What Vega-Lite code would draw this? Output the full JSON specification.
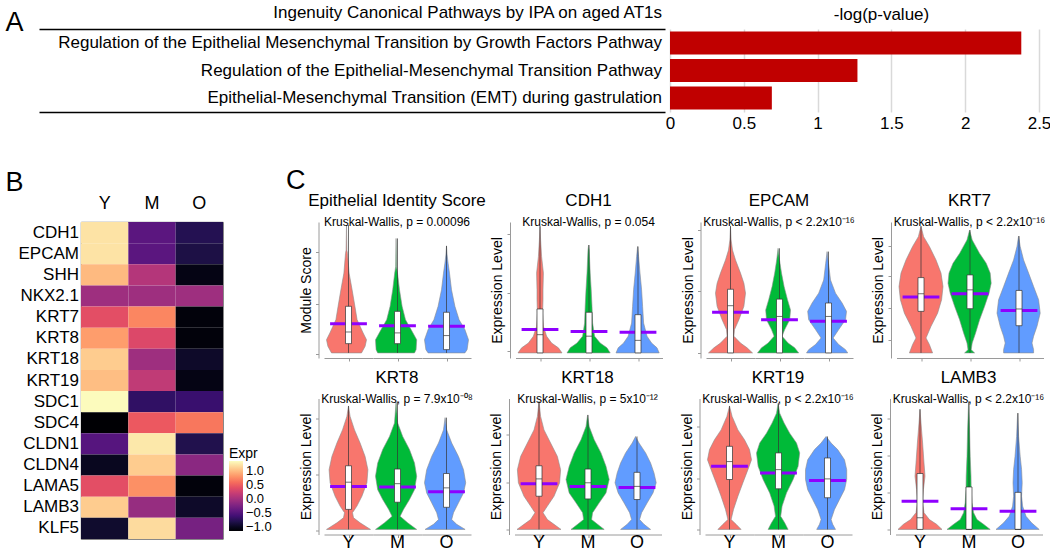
{
"$schema":"https://vega.github.io/schema/vega-lite/v6.json",
"padding":{"left":5,"top":4,"right":0,"bottom":0},
"config":{"font":"Liberation Sans","view":{"stroke":null},
 "title":{"fontWeight":"normal","color":"black","subtitleColor":"black","fontSize":17,"subtitleFontSize":12,"offset":-7,"subtitlePadding":7,"subtitleFont":"Liberation Sans","anchor":"middle","dx":12},
 "axis":{"labelColor":"black","titleColor":"black","titleFontWeight":"normal","domainColor":"#9a9a9a","tickColor":"#9a9a9a","grid":false},
 "header":{"labelColor":"black","labelFont":"Liberation Sans"}},
"datasets":{
"ipa":[{"pathway":"Regulation of the Epithelial Mesenchymal Transition by Growth Factors Pathway","logp":2.38},{"pathway":"Regulation of the Epithelial-Mesenchymal Transition Pathway","logp":1.27},{"pathway":"Epithelial-Mesenchymal Transition (EMT) during gastrulation","logp":0.69}],
"heat":[
{"gene":"CDH1","age":"Y","expr":1.22},{"gene":"CDH1","age":"M","expr":-0.45},{"gene":"CDH1","age":"O","expr":-0.78},
{"gene":"EPCAM","age":"Y","expr":1.22},{"gene":"EPCAM","age":"M","expr":-0.45},{"gene":"EPCAM","age":"O","expr":-0.83},
{"gene":"SHH","age":"Y","expr":1.0},{"gene":"SHH","age":"M","expr":0.1},{"gene":"SHH","age":"O","expr":-1.05},
{"gene":"NKX2.1","age":"Y","expr":-0.03},{"gene":"NKX2.1","age":"M","expr":-0.03},{"gene":"NKX2.1","age":"O","expr":-0.03},
{"gene":"KRT7","age":"Y","expr":0.4},{"gene":"KRT7","age":"M","expr":0.73},{"gene":"KRT7","age":"O","expr":-1.1},
{"gene":"KRT8","age":"Y","expr":0.85},{"gene":"KRT8","age":"M","expr":0.35},{"gene":"KRT8","age":"O","expr":-1.1},
{"gene":"KRT18","age":"Y","expr":1.1},{"gene":"KRT18","age":"M","expr":-0.03},{"gene":"KRT18","age":"O","expr":-0.95},
{"gene":"KRT19","age":"Y","expr":1.02},{"gene":"KRT19","age":"M","expr":0.17},{"gene":"KRT19","age":"O","expr":-1.05},
{"gene":"SDC1","age":"Y","expr":1.35},{"gene":"SDC1","age":"M","expr":-0.7},{"gene":"SDC1","age":"O","expr":-0.65},
{"gene":"SDC4","age":"Y","expr":-1.14},{"gene":"SDC4","age":"M","expr":0.47},{"gene":"SDC4","age":"O","expr":0.65},
{"gene":"CLDN1","age":"Y","expr":-0.48},{"gene":"CLDN1","age":"M","expr":1.25},{"gene":"CLDN1","age":"O","expr":-0.8},
{"gene":"CLDN4","age":"Y","expr":-1.0},{"gene":"CLDN4","age":"M","expr":1.1},{"gene":"CLDN4","age":"O","expr":-0.15},
{"gene":"LAMA5","age":"Y","expr":0.4},{"gene":"LAMA5","age":"M","expr":0.78},{"gene":"LAMA5","age":"O","expr":-1.1},
{"gene":"LAMB3","age":"Y","expr":1.1},{"gene":"LAMB3","age":"M","expr":-0.08},{"gene":"LAMB3","age":"O","expr":-0.95},
{"gene":"KLF5","age":"Y","expr":-0.93},{"gene":"KLF5","age":"M","expr":1.18},{"gene":"KLF5","age":"O","expr":-0.28}],
"vio":[
{"p":"EIS","g":"Y","k":"v","v":4.28,"w":0},{"p":"EIS","g":"Y","k":"v","v":3.44,"w":0.02},{"p":"EIS","g":"Y","k":"v","v":3.33,"w":0.05},{"p":"EIS","g":"Y","k":"v","v":2.67,"w":0.13},{"p":"EIS","g":"Y","k":"v","v":2.11,"w":0.28},{"p":"EIS","g":"Y","k":"v","v":1.56,"w":0.42},{"p":"EIS","g":"Y","k":"v","v":1.11,"w":0.53},{"p":"EIS","g":"Y","k":"v","v":0.67,"w":0.83},{"p":"EIS","g":"Y","k":"v","v":0.44,"w":1.0},{"p":"EIS","g":"Y","k":"v","v":0.22,"w":0.93},{"p":"EIS","g":"Y","k":"v","v":0,"w":0.75},
{"p":"EIS","g":"M","k":"v","v":3.83,"w":0},{"p":"EIS","g":"M","k":"v","v":2.89,"w":0.02},{"p":"EIS","g":"M","k":"v","v":2.67,"w":0.07},{"p":"EIS","g":"M","k":"v","v":2.11,"w":0.17},{"p":"EIS","g":"M","k":"v","v":1.56,"w":0.3},{"p":"EIS","g":"M","k":"v","v":1.11,"w":0.47},{"p":"EIS","g":"M","k":"v","v":0.78,"w":0.75},{"p":"EIS","g":"M","k":"v","v":0.44,"w":1.03},{"p":"EIS","g":"M","k":"v","v":0.11,"w":1.0},{"p":"EIS","g":"M","k":"v","v":0,"w":0.92},
{"p":"EIS","g":"O","k":"v","v":3.58,"w":0},{"p":"EIS","g":"O","k":"v","v":3.28,"w":0.03},{"p":"EIS","g":"O","k":"v","v":3.0,"w":0.08},{"p":"EIS","g":"O","k":"v","v":2.67,"w":0.15},{"p":"EIS","g":"O","k":"v","v":2.11,"w":0.25},{"p":"EIS","g":"O","k":"v","v":1.56,"w":0.42},{"p":"EIS","g":"O","k":"v","v":1.11,"w":0.63},{"p":"EIS","g":"O","k":"v","v":0.78,"w":0.92},{"p":"EIS","g":"O","k":"v","v":0.44,"w":1.1},{"p":"EIS","g":"O","k":"v","v":0.11,"w":1.03},{"p":"EIS","g":"O","k":"v","v":0,"w":0.92},
{"p":"EIS","g":"Y","k":"b","lo":0,"q1":0.31,"med":0.7,"q3":1.56,"hi":4.28,"mean":0.98},{"p":"EIS","g":"M","k":"b","lo":0,"q1":0.31,"med":0.67,"q3":1.39,"hi":3.83,"mean":0.91},{"p":"EIS","g":"O","k":"b","lo":0,"q1":0.11,"med":0.58,"q3":1.36,"hi":3.58,"mean":0.89},
{"p":"CDH1","g":"Y","k":"v","v":4.24,"w":0},{"p":"CDH1","g":"Y","k":"v","v":3.78,"w":0.03},{"p":"CDH1","g":"Y","k":"v","v":3.22,"w":0.08},{"p":"CDH1","g":"Y","k":"v","v":2.67,"w":0.17},{"p":"CDH1","g":"Y","k":"v","v":2.11,"w":0.15},{"p":"CDH1","g":"Y","k":"v","v":1.78,"w":0.15},{"p":"CDH1","g":"Y","k":"v","v":1.33,"w":0.13},{"p":"CDH1","g":"Y","k":"v","v":0.89,"w":0.17},{"p":"CDH1","g":"Y","k":"v","v":0.56,"w":0.33},{"p":"CDH1","g":"Y","k":"v","v":0.33,"w":0.58},{"p":"CDH1","g":"Y","k":"v","v":0.17,"w":0.92},{"p":"CDH1","g":"Y","k":"v","v":0,"w":1.1},
{"p":"CDH1","g":"M","k":"v","v":3.61,"w":0},{"p":"CDH1","g":"M","k":"v","v":3.44,"w":0.03},{"p":"CDH1","g":"M","k":"v","v":2.67,"w":0.08},{"p":"CDH1","g":"M","k":"v","v":2.11,"w":0.13},{"p":"CDH1","g":"M","k":"v","v":1.56,"w":0.17},{"p":"CDH1","g":"M","k":"v","v":1.0,"w":0.2},{"p":"CDH1","g":"M","k":"v","v":0.56,"w":0.3},{"p":"CDH1","g":"M","k":"v","v":0.33,"w":0.58},{"p":"CDH1","g":"M","k":"v","v":0.17,"w":0.92},{"p":"CDH1","g":"M","k":"v","v":0,"w":1.08},
{"p":"CDH1","g":"O","k":"v","v":3.56,"w":0},{"p":"CDH1","g":"O","k":"v","v":3.22,"w":0.05},{"p":"CDH1","g":"O","k":"v","v":2.67,"w":0.12},{"p":"CDH1","g":"O","k":"v","v":2.11,"w":0.2},{"p":"CDH1","g":"O","k":"v","v":1.56,"w":0.25},{"p":"CDH1","g":"O","k":"v","v":1.0,"w":0.3},{"p":"CDH1","g":"O","k":"v","v":0.56,"w":0.47},{"p":"CDH1","g":"O","k":"v","v":0.33,"w":0.7},{"p":"CDH1","g":"O","k":"v","v":0.17,"w":0.97},{"p":"CDH1","g":"O","k":"v","v":0,"w":1.08},
{"p":"CDH1","g":"Y","k":"b","lo":0,"q1":0,"med":0.61,"q3":1.47,"hi":4.24,"mean":0.78},{"p":"CDH1","g":"M","k":"b","lo":0,"q1":0,"med":0.56,"q3":1.36,"hi":3.61,"mean":0.72},{"p":"CDH1","g":"O","k":"b","lo":0,"q1":0,"med":0.42,"q3":1.28,"hi":3.56,"mean":0.69},
{"p":"EPCAM","g":"Y","k":"v","v":4.24,"w":0},{"p":"EPCAM","g":"Y","k":"v","v":3.78,"w":0.03},{"p":"EPCAM","g":"Y","k":"v","v":3.44,"w":0.1},{"p":"EPCAM","g":"Y","k":"v","v":3.11,"w":0.25},{"p":"EPCAM","g":"Y","k":"v","v":2.67,"w":0.5},{"p":"EPCAM","g":"Y","k":"v","v":2.33,"w":0.67},{"p":"EPCAM","g":"Y","k":"v","v":2.0,"w":0.75},{"p":"EPCAM","g":"Y","k":"v","v":1.56,"w":0.67},{"p":"EPCAM","g":"Y","k":"v","v":1.11,"w":0.42},{"p":"EPCAM","g":"Y","k":"v","v":0.78,"w":0.2},{"p":"EPCAM","g":"Y","k":"v","v":0.56,"w":0.17},{"p":"EPCAM","g":"Y","k":"v","v":0.33,"w":0.5},{"p":"EPCAM","g":"Y","k":"v","v":0.17,"w":0.83},{"p":"EPCAM","g":"Y","k":"v","v":0,"w":1.1},
{"p":"EPCAM","g":"M","k":"v","v":3.5,"w":0},{"p":"EPCAM","g":"M","k":"v","v":3.11,"w":0.07},{"p":"EPCAM","g":"M","k":"v","v":2.67,"w":0.17},{"p":"EPCAM","g":"M","k":"v","v":2.22,"w":0.3},{"p":"EPCAM","g":"M","k":"v","v":1.78,"w":0.47},{"p":"EPCAM","g":"M","k":"v","v":1.44,"w":0.62},{"p":"EPCAM","g":"M","k":"v","v":1.11,"w":0.58},{"p":"EPCAM","g":"M","k":"v","v":0.78,"w":0.33},{"p":"EPCAM","g":"M","k":"v","v":0.56,"w":0.2},{"p":"EPCAM","g":"M","k":"v","v":0.33,"w":0.5},{"p":"EPCAM","g":"M","k":"v","v":0.17,"w":0.83},{"p":"EPCAM","g":"M","k":"v","v":0,"w":1.03},
{"p":"EPCAM","g":"O","k":"v","v":3.39,"w":0},{"p":"EPCAM","g":"O","k":"v","v":3.0,"w":0.07},{"p":"EPCAM","g":"O","k":"v","v":2.44,"w":0.17},{"p":"EPCAM","g":"O","k":"v","v":2.0,"w":0.42},{"p":"EPCAM","g":"O","k":"v","v":1.67,"w":0.75},{"p":"EPCAM","g":"O","k":"v","v":1.39,"w":0.97},{"p":"EPCAM","g":"O","k":"v","v":1.11,"w":0.92},{"p":"EPCAM","g":"O","k":"v","v":0.78,"w":0.58},{"p":"EPCAM","g":"O","k":"v","v":0.5,"w":0.3},{"p":"EPCAM","g":"O","k":"v","v":0.28,"w":0.58},{"p":"EPCAM","g":"O","k":"v","v":0.11,"w":0.92},{"p":"EPCAM","g":"O","k":"v","v":0,"w":1.03},
{"p":"EPCAM","g":"Y","k":"b","lo":0,"q1":0,"med":1.58,"q3":2.13,"hi":4.24,"mean":1.36},{"p":"EPCAM","g":"M","k":"b","lo":0,"q1":0,"med":1.22,"q3":1.8,"hi":3.5,"mean":1.11},{"p":"EPCAM","g":"O","k":"b","lo":0,"q1":0,"med":1.22,"q3":1.67,"hi":3.39,"mean":1.06},
{"p":"KRT7","g":"Y","k":"v","v":4.24,"w":0},{"p":"KRT7","g":"Y","k":"v","v":3.89,"w":0.13},{"p":"KRT7","g":"Y","k":"v","v":3.56,"w":0.42},{"p":"KRT7","g":"Y","k":"v","v":3.11,"w":0.75},{"p":"KRT7","g":"Y","k":"v","v":2.67,"w":1.0},{"p":"KRT7","g":"Y","k":"v","v":2.22,"w":1.1},{"p":"KRT7","g":"Y","k":"v","v":1.78,"w":1.03},{"p":"KRT7","g":"Y","k":"v","v":1.33,"w":0.83},{"p":"KRT7","g":"Y","k":"v","v":0.89,"w":0.5},{"p":"KRT7","g":"Y","k":"v","v":0.5,"w":0.25},{"p":"KRT7","g":"Y","k":"v","v":0.28,"w":0.42},{"p":"KRT7","g":"Y","k":"v","v":0,"w":0.58},
{"p":"KRT7","g":"M","k":"v","v":4.11,"w":0},{"p":"KRT7","g":"M","k":"v","v":3.78,"w":0.13},{"p":"KRT7","g":"M","k":"v","v":3.33,"w":0.5},{"p":"KRT7","g":"M","k":"v","v":3.0,"w":0.83},{"p":"KRT7","g":"M","k":"v","v":2.67,"w":1.03},{"p":"KRT7","g":"M","k":"v","v":2.33,"w":1.08},{"p":"KRT7","g":"M","k":"v","v":2.0,"w":0.97},{"p":"KRT7","g":"M","k":"v","v":1.56,"w":0.75},{"p":"KRT7","g":"M","k":"v","v":1.11,"w":0.5},{"p":"KRT7","g":"M","k":"v","v":0.67,"w":0.3},{"p":"KRT7","g":"M","k":"v","v":0.33,"w":0.13},{"p":"KRT7","g":"M","k":"v","v":0.11,"w":0.08},{"p":"KRT7","g":"M","k":"v","v":0,"w":0.25},
{"p":"KRT7","g":"O","k":"v","v":3.91,"w":0},{"p":"KRT7","g":"O","k":"v","v":3.56,"w":0.08},{"p":"KRT7","g":"O","k":"v","v":3.11,"w":0.25},{"p":"KRT7","g":"O","k":"v","v":2.67,"w":0.5},{"p":"KRT7","g":"O","k":"v","v":2.22,"w":0.75},{"p":"KRT7","g":"O","k":"v","v":1.78,"w":1.0},{"p":"KRT7","g":"O","k":"v","v":1.33,"w":1.08},{"p":"KRT7","g":"O","k":"v","v":0.89,"w":0.92},{"p":"KRT7","g":"O","k":"v","v":0.56,"w":0.75},{"p":"KRT7","g":"O","k":"v","v":0.33,"w":0.67},{"p":"KRT7","g":"O","k":"v","v":0.11,"w":0.75},{"p":"KRT7","g":"O","k":"v","v":0,"w":0.75},
{"p":"KRT7","g":"Y","k":"b","lo":0,"q1":1.39,"med":1.98,"q3":2.52,"hi":4.24,"mean":1.87},{"p":"KRT7","g":"M","k":"b","lo":0,"q1":1.48,"med":2.11,"q3":2.61,"hi":4.11,"mean":1.98},{"p":"KRT7","g":"O","k":"b","lo":0,"q1":0.91,"med":1.47,"q3":2.09,"hi":3.91,"mean":1.42},
{"p":"KRT8","g":"Y","k":"v","v":4.13,"w":0},{"p":"KRT8","g":"Y","k":"v","v":3.78,"w":0.08},{"p":"KRT8","g":"Y","k":"v","v":3.33,"w":0.3},{"p":"KRT8","g":"Y","k":"v","v":2.89,"w":0.58},{"p":"KRT8","g":"Y","k":"v","v":2.44,"w":0.83},{"p":"KRT8","g":"Y","k":"v","v":2.0,"w":0.97},{"p":"KRT8","g":"Y","k":"v","v":1.56,"w":0.92},{"p":"KRT8","g":"Y","k":"v","v":1.11,"w":0.67},{"p":"KRT8","g":"Y","k":"v","v":0.78,"w":0.42},{"p":"KRT8","g":"Y","k":"v","v":0.56,"w":0.2},{"p":"KRT8","g":"Y","k":"v","v":0.39,"w":0.25},{"p":"KRT8","g":"Y","k":"v","v":0.22,"w":0.58},{"p":"KRT8","g":"Y","k":"v","v":0,"w":1.1},
{"p":"KRT8","g":"M","k":"v","v":4.28,"w":0},{"p":"KRT8","g":"M","k":"v","v":3.56,"w":0.08},{"p":"KRT8","g":"M","k":"v","v":3.11,"w":0.33},{"p":"KRT8","g":"M","k":"v","v":2.67,"w":0.67},{"p":"KRT8","g":"M","k":"v","v":2.22,"w":0.92},{"p":"KRT8","g":"M","k":"v","v":1.78,"w":1.03},{"p":"KRT8","g":"M","k":"v","v":1.33,"w":0.92},{"p":"KRT8","g":"M","k":"v","v":1.0,"w":0.67},{"p":"KRT8","g":"M","k":"v","v":0.67,"w":0.37},{"p":"KRT8","g":"M","k":"v","v":0.44,"w":0.2},{"p":"KRT8","g":"M","k":"v","v":0.22,"w":0.58},{"p":"KRT8","g":"M","k":"v","v":0,"w":1.03},
{"p":"KRT8","g":"O","k":"v","v":3.74,"w":0},{"p":"KRT8","g":"O","k":"v","v":3.33,"w":0.08},{"p":"KRT8","g":"O","k":"v","v":2.89,"w":0.33},{"p":"KRT8","g":"O","k":"v","v":2.44,"w":0.67},{"p":"KRT8","g":"O","k":"v","v":2.0,"w":0.92},{"p":"KRT8","g":"O","k":"v","v":1.56,"w":1.03},{"p":"KRT8","g":"O","k":"v","v":1.22,"w":0.92},{"p":"KRT8","g":"O","k":"v","v":0.89,"w":0.67},{"p":"KRT8","g":"O","k":"v","v":0.56,"w":0.42},{"p":"KRT8","g":"O","k":"v","v":0.33,"w":0.33},{"p":"KRT8","g":"O","k":"v","v":0.17,"w":0.58},{"p":"KRT8","g":"O","k":"v","v":0,"w":1.0},
{"p":"KRT8","g":"Y","k":"b","lo":0,"q1":0.67,"med":1.58,"q3":2.13,"hi":4.13,"mean":1.44},{"p":"KRT8","g":"M","k":"b","lo":0,"q1":0.91,"med":1.53,"q3":2.02,"hi":4.28,"mean":1.42},{"p":"KRT8","g":"O","k":"b","lo":0,"q1":0.74,"med":1.39,"q3":1.87,"hi":3.74,"mean":1.26},
{"p":"KRT18","g":"Y","k":"v","v":4.28,"w":0},{"p":"KRT18","g":"Y","k":"v","v":3.78,"w":0.08},{"p":"KRT18","g":"Y","k":"v","v":3.33,"w":0.25},{"p":"KRT18","g":"Y","k":"v","v":2.89,"w":0.58},{"p":"KRT18","g":"Y","k":"v","v":2.44,"w":0.92},{"p":"KRT18","g":"Y","k":"v","v":2.0,"w":1.08},{"p":"KRT18","g":"Y","k":"v","v":1.56,"w":1.03},{"p":"KRT18","g":"Y","k":"v","v":1.11,"w":0.75},{"p":"KRT18","g":"Y","k":"v","v":0.78,"w":0.42},{"p":"KRT18","g":"Y","k":"v","v":0.56,"w":0.2},{"p":"KRT18","g":"Y","k":"v","v":0.33,"w":0.42},{"p":"KRT18","g":"Y","k":"v","v":0.17,"w":0.75},{"p":"KRT18","g":"Y","k":"v","v":0,"w":1.1},
{"p":"KRT18","g":"M","k":"v","v":3.83,"w":0},{"p":"KRT18","g":"M","k":"v","v":3.44,"w":0.08},{"p":"KRT18","g":"M","k":"v","v":3.0,"w":0.33},{"p":"KRT18","g":"M","k":"v","v":2.56,"w":0.67},{"p":"KRT18","g":"M","k":"v","v":2.11,"w":0.92},{"p":"KRT18","g":"M","k":"v","v":1.67,"w":1.08},{"p":"KRT18","g":"M","k":"v","v":1.22,"w":0.92},{"p":"KRT18","g":"M","k":"v","v":0.89,"w":0.58},{"p":"KRT18","g":"M","k":"v","v":0.56,"w":0.25},{"p":"KRT18","g":"M","k":"v","v":0.33,"w":0.2},{"p":"KRT18","g":"M","k":"v","v":0.17,"w":0.5},{"p":"KRT18","g":"M","k":"v","v":0,"w":0.83},
{"p":"KRT18","g":"O","k":"v","v":3.11,"w":0},{"p":"KRT18","g":"O","k":"v","v":2.89,"w":0.17},{"p":"KRT18","g":"O","k":"v","v":2.56,"w":0.5},{"p":"KRT18","g":"O","k":"v","v":2.22,"w":0.75},{"p":"KRT18","g":"O","k":"v","v":1.89,"w":0.92},{"p":"KRT18","g":"O","k":"v","v":1.56,"w":1.03},{"p":"KRT18","g":"O","k":"v","v":1.22,"w":0.87},{"p":"KRT18","g":"O","k":"v","v":0.89,"w":0.58},{"p":"KRT18","g":"O","k":"v","v":0.56,"w":0.3},{"p":"KRT18","g":"O","k":"v","v":0.33,"w":0.2},{"p":"KRT18","g":"O","k":"v","v":0.17,"w":0.42},{"p":"KRT18","g":"O","k":"v","v":0,"w":0.75},
{"p":"KRT18","g":"Y","k":"b","lo":0,"q1":1.11,"med":1.69,"q3":2.13,"hi":4.28,"mean":1.53},{"p":"KRT18","g":"M","k":"b","lo":0,"q1":1.02,"med":1.56,"q3":2.02,"hi":3.83,"mean":1.44},{"p":"KRT18","g":"O","k":"b","lo":0,"q1":1.0,"med":1.44,"q3":1.91,"hi":3.11,"mean":1.4},
{"p":"KRT19","g":"Y","k":"v","v":4.13,"w":0},{"p":"KRT19","g":"Y","k":"v","v":3.78,"w":0.13},{"p":"KRT19","g":"Y","k":"v","v":3.33,"w":0.42},{"p":"KRT19","g":"Y","k":"v","v":3.0,"w":0.75},{"p":"KRT19","g":"Y","k":"v","v":2.67,"w":1.0},{"p":"KRT19","g":"Y","k":"v","v":2.33,"w":1.1},{"p":"KRT19","g":"Y","k":"v","v":2.0,"w":0.92},{"p":"KRT19","g":"Y","k":"v","v":1.56,"w":0.67},{"p":"KRT19","g":"Y","k":"v","v":1.11,"w":0.42},{"p":"KRT19","g":"Y","k":"v","v":0.67,"w":0.2},{"p":"KRT19","g":"Y","k":"v","v":0.33,"w":0.08},{"p":"KRT19","g":"Y","k":"v","v":0.17,"w":0.33},{"p":"KRT19","g":"Y","k":"v","v":0,"w":0.58},
{"p":"KRT19","g":"M","k":"v","v":4.22,"w":0},{"p":"KRT19","g":"M","k":"v","v":3.89,"w":0.08},{"p":"KRT19","g":"M","k":"v","v":3.56,"w":0.3},{"p":"KRT19","g":"M","k":"v","v":3.22,"w":0.58},{"p":"KRT19","g":"M","k":"v","v":2.89,"w":0.92},{"p":"KRT19","g":"M","k":"v","v":2.56,"w":1.08},{"p":"KRT19","g":"M","k":"v","v":2.11,"w":1.0},{"p":"KRT19","g":"M","k":"v","v":1.67,"w":0.75},{"p":"KRT19","g":"M","k":"v","v":1.22,"w":0.42},{"p":"KRT19","g":"M","k":"v","v":0.78,"w":0.2},{"p":"KRT19","g":"M","k":"v","v":0.44,"w":0.13},{"p":"KRT19","g":"M","k":"v","v":0.22,"w":0.33},{"p":"KRT19","g":"M","k":"v","v":0,"w":0.5},
{"p":"KRT19","g":"O","k":"v","v":3.11,"w":0},{"p":"KRT19","g":"O","k":"v","v":2.89,"w":0.25},{"p":"KRT19","g":"O","k":"v","v":2.67,"w":0.58},{"p":"KRT19","g":"O","k":"v","v":2.33,"w":0.92},{"p":"KRT19","g":"O","k":"v","v":2.0,"w":1.03},{"p":"KRT19","g":"O","k":"v","v":1.67,"w":1.03},{"p":"KRT19","g":"O","k":"v","v":1.33,"w":0.92},{"p":"KRT19","g":"O","k":"v","v":1.0,"w":0.67},{"p":"KRT19","g":"O","k":"v","v":0.67,"w":0.42},{"p":"KRT19","g":"O","k":"v","v":0.33,"w":0.25},{"p":"KRT19","g":"O","k":"v","v":0.17,"w":0.33},{"p":"KRT19","g":"O","k":"v","v":0,"w":0.47},
{"p":"KRT19","g":"Y","k":"b","lo":0,"q1":1.67,"med":2.27,"q3":2.78,"hi":4.13,"mean":2.11},{"p":"KRT19","g":"M","k":"b","lo":0,"q1":1.36,"med":2.0,"q3":2.56,"hi":4.22,"mean":1.89},{"p":"KRT19","g":"O","k":"b","lo":0,"q1":1.06,"med":1.69,"q3":2.39,"hi":3.11,"mean":1.64},
{"p":"LAMB3","g":"Y","k":"v","v":4.02,"w":0},{"p":"LAMB3","g":"Y","k":"v","v":3.56,"w":0.05},{"p":"LAMB3","g":"Y","k":"v","v":2.89,"w":0.13},{"p":"LAMB3","g":"Y","k":"v","v":2.22,"w":0.2},{"p":"LAMB3","g":"Y","k":"v","v":1.78,"w":0.25},{"p":"LAMB3","g":"Y","k":"v","v":1.33,"w":0.17},{"p":"LAMB3","g":"Y","k":"v","v":0.89,"w":0.13},{"p":"LAMB3","g":"Y","k":"v","v":0.56,"w":0.2},{"p":"LAMB3","g":"Y","k":"v","v":0.33,"w":0.47},{"p":"LAMB3","g":"Y","k":"v","v":0.17,"w":0.83},{"p":"LAMB3","g":"Y","k":"v","v":0,"w":1.1},
{"p":"LAMB3","g":"M","k":"v","v":4.28,"w":0},{"p":"LAMB3","g":"M","k":"v","v":3.33,"w":0.05},{"p":"LAMB3","g":"M","k":"v","v":2.44,"w":0.08},{"p":"LAMB3","g":"M","k":"v","v":1.78,"w":0.12},{"p":"LAMB3","g":"M","k":"v","v":1.33,"w":0.13},{"p":"LAMB3","g":"M","k":"v","v":0.89,"w":0.17},{"p":"LAMB3","g":"M","k":"v","v":0.56,"w":0.25},{"p":"LAMB3","g":"M","k":"v","v":0.33,"w":0.42},{"p":"LAMB3","g":"M","k":"v","v":0.17,"w":0.75},{"p":"LAMB3","g":"M","k":"v","v":0,"w":1.08},
{"p":"LAMB3","g":"O","k":"v","v":3.89,"w":0},{"p":"LAMB3","g":"O","k":"v","v":3.11,"w":0.05},{"p":"LAMB3","g":"O","k":"v","v":2.44,"w":0.13},{"p":"LAMB3","g":"O","k":"v","v":2.0,"w":0.2},{"p":"LAMB3","g":"O","k":"v","v":1.56,"w":0.23},{"p":"LAMB3","g":"O","k":"v","v":1.11,"w":0.2},{"p":"LAMB3","g":"O","k":"v","v":0.78,"w":0.25},{"p":"LAMB3","g":"O","k":"v","v":0.44,"w":0.42},{"p":"LAMB3","g":"O","k":"v","v":0.22,"w":0.7},{"p":"LAMB3","g":"O","k":"v","v":0,"w":1.08},
{"p":"LAMB3","g":"Y","k":"b","lo":0,"q1":0,"med":0.39,"q3":1.87,"hi":4.02,"mean":0.94},{"p":"LAMB3","g":"M","k":"b","lo":0,"q1":0,"med":0,"q3":1.42,"hi":4.28,"mean":0.69},{"p":"LAMB3","g":"O","k":"b","lo":0,"q1":0,"med":0,"q3":1.24,"hi":3.89,"mean":0.61}
]},
"columns":1,"spacing":36,
"concat":[
 {"hconcat":[
  {"width":626,"height":83,"data":{"name":"ipa"},
   "title":{"text":"Ingenuity Canonical Pathways by IPA on aged AT1s","anchor":"end","frame":"group","fontSize":17,"offset":-14,"dx":-3},
   "layer":[
    {"mark":{"type":"text","align":"right","fontSize":17,"dx":-3,"color":"black"},
     "encoding":{
      "y":{"field":"pathway","type":"nominal","sort":null,"scale":{"paddingInner":0.164,"paddingOuter":0.09},"axis":{"title":"A","titleAngle":0,"titleFontSize":27,"titleAlign":"left","titleBaseline":"top","titleX":-34,"titleY":-20,"labels":false,"ticks":false,"domain":false}},
      "x":{"datum":1,"type":"quantitative","scale":{"domain":[0,1],"nice":false},"axis":{"orient":"top","domainColor":"black","domainWidth":1.3,"ticks":false,"labels":false,"title":null}},
      "text":{"field":"pathway"}}},
    {"mark":{"type":"text","align":"right","fontSize":17,"dx":-3,"opacity":0},
     "encoding":{
      "y":{"field":"pathway","type":"nominal","sort":null},
      "x":{"datum":1,"type":"quantitative","axis":{"orient":"bottom","domainColor":"black","domainWidth":1.3,"ticks":false,"labels":false,"title":null}},
      "text":{"field":"pathway"}}}
   ],
   "resolve":{"axis":{"x":"independent"}}},
  {"width":369,"height":83,"data":{"name":"ipa"},
   "title":{"text":"-log(p-value)","fontSize":17,"offset":5,"dx":27},
   "mark":{"type":"bar","color":"#c00000"},
   "encoding":{
    "y":{"field":"pathway","type":"nominal","sort":null,"axis":null,"scale":{"paddingInner":0.164,"paddingOuter":0.09}},
    "x":{"field":"logp","type":"quantitative","scale":{"domain":[0,2.5],"nice":false},"axis":{"values":[0,0.5,1,1.5,2,2.5],"format":"~g","labelFontSize":17,"grid":true,"gridColor":"#d9d9d9","gridWidth":1.5,"ticks":false,"domain":false,"title":null,"labelFlush":false,"labelPadding":3}}}}
 ],"spacing":0},
 {"spacing":0,"hconcat":[
  {"width":41,"height":317,"data":{"name":"heat"},"transform":[{"filter":"datum.age=='Y'"}],
   "title":{"text":"B","anchor":"start","frame":"bounds","fontSize":27,"dx":-13,"offset":25},
   "mark":{"type":"text","align":"right","fontSize":17,"dx":-1,"color":"black"},
   "encoding":{
    "y":{"field":"gene","type":"nominal","sort":["CDH1","EPCAM","SHH","NKX2.1","KRT7","KRT8","KRT18","KRT19","SDC1","SDC4","CLDN1","CLDN4","LAMA5","LAMB3","KLF5"],"axis":null},
    "x":{"datum":1,"type":"quantitative","scale":{"domain":[0,1],"nice":false},"axis":null},
    "text":{"field":"gene"}}},
  {"spacing":13,"hconcat":[
  {"width":142,"height":317,"data":{"name":"heat"},
   "view":{"stroke":"#444","strokeWidth":0.8},
   "mark":{"type":"rect"},
   "encoding":{
    "x":{"field":"age","type":"nominal","sort":["Y","M","O"],"axis":{"orient":"top","title":null,"labelAngle":0,"labelFontSize":18,"ticks":false,"domain":false,"labelPadding":10}},
    "y":{"field":"gene","type":"nominal","sort":["CDH1","EPCAM","SHH","NKX2.1","KRT7","KRT8","KRT18","KRT19","SDC1","SDC4","CLDN1","CLDN4","LAMA5","LAMB3","KLF5"],"axis":null},
    "color":{"field":"expr","type":"quantitative","scale":{"scheme":"magma","domain":[-1.14,1.36]},"legend":{"title":"Expr","orient":"none","legendX":148,"legendY":225,"gradientLength":70,"gradientThickness":14,"titleFontSize":14,"titleFontWeight":"normal","titleColor":"black","labelFontSize":13,"labelColor":"black","labelOverlap":false,"values":[-1,-0.5,0,0.5,1],"format":".1f","titlePadding":0,"labelOffset":3,"gradientStrokeWidth":0}}}},
  {"title":{"text":"C","anchor":"start","frame":"bounds","fontSize":27,"dx":-13,"offset":-3},
   "spacing":6.5,
   "vconcat":[
    {"spacing":4.5,"hconcat":[
     {"data":{"name":"vio"},"transform":[{"filter":"datum.p=='EIS'"}],
      "title":{"text":"Epithelial Identity Score","subtitle":"Kruskal-Wallis, p = 0.00096"},
      "facet":{"column":{"field":"g","type":"nominal","sort":["Y","M","O"],"header":{"labels":false,"title":null}}},
      "spacing":0,
      "spec":{"width":49,"height":136,"layer":[
       {"transform":[{"filter":"datum.k=='v'"}],"mark":{"type":"area","orient":"horizontal","stroke":"#8c8c8c","strokeWidth":0.6},
        "encoding":{"y":{"field":"v","type":"quantitative","scale":{"domain":[-0.17,4.38],"nice":false},"axis":{"title":"Module Score","values":[-0.03,0.8,1.64,2.52,3.36,4.23],"labels":false,"tickSize":3,"offset":5.5,"titleFontSize":14,"titlePadding":2}},
         "x":{"field":"w","type":"quantitative","stack":"center","impute":null,"scale":{"domain":[-0.0625,1.1625],"nice":false},"axis":{"values":[0.55],"labels":false,"tickSize":3,"title":null}},
         "color":{"field":"g","type":"nominal","scale":{"domain":["Y","M","O"],"range":["#F8766D","#00BA38","#619CFF"]},"legend":null}}},
       {"transform":[{"filter":"datum.k=='b'"}],"mark":{"type":"rule","color":"#333","strokeWidth":0.7},"encoding":{"y":{"field":"lo","type":"quantitative"},"y2":{"field":"hi"},"x":{"datum":0.55}}},
       {"transform":[{"filter":"datum.k=='b'"}],"mark":{"type":"rule","color":"#8f00ff","strokeWidth":3},"encoding":{"y":{"field":"mean","type":"quantitative"},"x":{"datum":0.09},"x2":{"datum":1.01}}},
       {"transform":[{"filter":"datum.k=='b'"}],"mark":{"type":"rect","fill":"white","stroke":"#333","strokeWidth":0.7},"encoding":{"y":{"field":"q1","type":"quantitative"},"y2":{"field":"q3"},"x":{"datum":0.475},"x2":{"datum":0.625}}},
       {"transform":[{"filter":"datum.k=='b'"}],"mark":{"type":"rule","color":"#333","strokeWidth":0.7},"encoding":{"y":{"field":"med","type":"quantitative"},"x":{"datum":0.475},"x2":{"datum":0.625}}}
      ]}},
     {"spacing":18.5,"hconcat":[
      {"data":{"name":"vio"},"transform":[{"filter":"datum.p=='CDH1'"}],
       "title":{"text":"CDH1","subtitle":"Kruskal-Wallis, p = 0.054"},
       "facet":{"column":{"field":"g","type":"nominal","sort":["Y","M","O"],"header":{"labels":false,"title":null}}},
       "spacing":0,
       "spec":{"width":49,"height":136,"layer":[
        {"transform":[{"filter":"datum.k=='v'"}],"mark":{"type":"area","orient":"horizontal","stroke":"#8c8c8c","strokeWidth":0.6},
         "encoding":{"y":{"field":"v","type":"quantitative","scale":{"domain":[-0.17,4.38],"nice":false},"axis":{"title":"Expression Level","values":[0.06,1.02,2.0,3.0,3.97],"labels":false,"tickSize":3,"offset":5.5,"titleFontSize":14,"titlePadding":2}},
          "x":{"field":"w","type":"quantitative","stack":"center","impute":null,"scale":{"domain":[-0.0625,1.1625],"nice":false},"axis":{"values":[0.55],"labels":false,"tickSize":3,"title":null}},
          "color":{"field":"g","type":"nominal","scale":{"domain":["Y","M","O"],"range":["#F8766D","#00BA38","#619CFF"]},"legend":null}}},
        {"transform":[{"filter":"datum.k=='b'"}],"mark":{"type":"rule","color":"#333","strokeWidth":0.7},"encoding":{"y":{"field":"lo","type":"quantitative"},"y2":{"field":"hi"},"x":{"datum":0.55}}},
        {"transform":[{"filter":"datum.k=='b'"}],"mark":{"type":"rule","color":"#8f00ff","strokeWidth":3},"encoding":{"y":{"field":"mean","type":"quantitative"},"x":{"datum":0.09},"x2":{"datum":1.01}}},
        {"transform":[{"filter":"datum.k=='b'"}],"mark":{"type":"rect","fill":"white","stroke":"#333","strokeWidth":0.7},"encoding":{"y":{"field":"q1","type":"quantitative"},"y2":{"field":"q3"},"x":{"datum":0.475},"x2":{"datum":0.625}}},
        {"transform":[{"filter":"datum.k=='b'"}],"mark":{"type":"rule","color":"#333","strokeWidth":0.7},"encoding":{"y":{"field":"med","type":"quantitative"},"x":{"datum":0.475},"x2":{"datum":0.625}}}
       ]}},
      {"spacing":16.5,"hconcat":[
       {"data":{"name":"vio"},"transform":[{"filter":"datum.p=='EPCAM'"}],
        "title":{"text":"EPCAM","subtitle":"Kruskal-Wallis, p < 2.2x10⁻¹⁶"},
        "facet":{"column":{"field":"g","type":"nominal","sort":["Y","M","O"],"header":{"labels":false,"title":null}}},
        "spacing":0,
        "spec":{"width":49,"height":136,"layer":[
         {"transform":[{"filter":"datum.k=='v'"}],"mark":{"type":"area","orient":"horizontal","stroke":"#8c8c8c","strokeWidth":0.6},
          "encoding":{"y":{"field":"v","type":"quantitative","scale":{"domain":[-0.17,4.38],"nice":false},"axis":{"title":"Expression Level","values":[0,1.02,2.06,3.09,4.11],"labels":false,"tickSize":3,"offset":5.5,"titleFontSize":14,"titlePadding":2}},
           "x":{"field":"w","type":"quantitative","stack":"center","impute":null,"scale":{"domain":[-0.0625,1.1625],"nice":false},"axis":{"values":[0.55],"labels":false,"tickSize":3,"title":null}},
           "color":{"field":"g","type":"nominal","scale":{"domain":["Y","M","O"],"range":["#F8766D","#00BA38","#619CFF"]},"legend":null}}},
         {"transform":[{"filter":"datum.k=='b'"}],"mark":{"type":"rule","color":"#333","strokeWidth":0.7},"encoding":{"y":{"field":"lo","type":"quantitative"},"y2":{"field":"hi"},"x":{"datum":0.55}}},
         {"transform":[{"filter":"datum.k=='b'"}],"mark":{"type":"rule","color":"#8f00ff","strokeWidth":3},"encoding":{"y":{"field":"mean","type":"quantitative"},"x":{"datum":0.09},"x2":{"datum":1.01}}},
         {"transform":[{"filter":"datum.k=='b'"}],"mark":{"type":"rect","fill":"white","stroke":"#333","strokeWidth":0.7},"encoding":{"y":{"field":"q1","type":"quantitative"},"y2":{"field":"q3"},"x":{"datum":0.475},"x2":{"datum":0.625}}},
         {"transform":[{"filter":"datum.k=='b'"}],"mark":{"type":"rule","color":"#333","strokeWidth":0.7},"encoding":{"y":{"field":"med","type":"quantitative"},"x":{"datum":0.475},"x2":{"datum":0.625}}}
        ]}},
       {"data":{"name":"vio"},"transform":[{"filter":"datum.p=='KRT7'"}],
        "title":{"text":"KRT7","subtitle":"Kruskal-Wallis, p < 2.2x10⁻¹⁶"},
        "facet":{"column":{"field":"g","type":"nominal","sort":["Y","M","O"],"header":{"labels":false,"title":null}}},
        "spacing":0,
        "spec":{"width":49,"height":136,"layer":[
         {"transform":[{"filter":"datum.k=='v'"}],"mark":{"type":"area","orient":"horizontal","stroke":"#8c8c8c","strokeWidth":0.6},
          "encoding":{"y":{"field":"v","type":"quantitative","scale":{"domain":[-0.17,4.38],"nice":false},"axis":{"title":"Expression Level","values":[0.44,1.5,2.56,3.58],"labels":false,"tickSize":3,"offset":5.5,"titleFontSize":14,"titlePadding":2}},
           "x":{"field":"w","type":"quantitative","stack":"center","impute":null,"scale":{"domain":[-0.0625,1.1625],"nice":false},"axis":{"values":[0.55],"labels":false,"tickSize":3,"title":null}},
           "color":{"field":"g","type":"nominal","scale":{"domain":["Y","M","O"],"range":["#F8766D","#00BA38","#619CFF"]},"legend":null}}},
         {"transform":[{"filter":"datum.k=='b'"}],"mark":{"type":"rule","color":"#333","strokeWidth":0.7},"encoding":{"y":{"field":"lo","type":"quantitative"},"y2":{"field":"hi"},"x":{"datum":0.55}}},
         {"transform":[{"filter":"datum.k=='b'"}],"mark":{"type":"rule","color":"#8f00ff","strokeWidth":3},"encoding":{"y":{"field":"mean","type":"quantitative"},"x":{"datum":0.09},"x2":{"datum":1.01}}},
         {"transform":[{"filter":"datum.k=='b'"}],"mark":{"type":"rect","fill":"white","stroke":"#333","strokeWidth":0.7},"encoding":{"y":{"field":"q1","type":"quantitative"},"y2":{"field":"q3"},"x":{"datum":0.475},"x2":{"datum":0.625}}},
         {"transform":[{"filter":"datum.k=='b'"}],"mark":{"type":"rule","color":"#333","strokeWidth":0.7},"encoding":{"y":{"field":"med","type":"quantitative"},"x":{"datum":0.475},"x2":{"datum":0.625}}}
        ]}}
      ]}
     ]}
    ]},
    {"spacing":16.5,"hconcat":[
     {"data":{"name":"vio"},"transform":[{"filter":"datum.p=='KRT8'"}],
      "title":{"text":"KRT8","subtitle":"Kruskal-Wallis, p = 7.9x10⁻⁰⁸"},
      "facet":{"column":{"field":"g","type":"nominal","sort":["Y","M","O"],"header":{"labelOrient":"bottom","labelFontSize":18,"labelPadding":-4,"title":null}}},
      "spacing":0,
      "spec":{"width":49,"height":136,"layer":[
       {"transform":[{"filter":"datum.k=='v'"}],"mark":{"type":"area","orient":"horizontal","stroke":"#8c8c8c","strokeWidth":0.6},
        "encoding":{"y":{"field":"v","type":"quantitative","scale":{"domain":[-0.17,4.38],"nice":false},"axis":{"title":"Expression Level","values":[-0.02,0.89,1.83,2.78,3.72],"labels":false,"tickSize":3,"offset":5.5,"titleFontSize":14,"titlePadding":2}},
         "x":{"field":"w","type":"quantitative","stack":"center","impute":null,"scale":{"domain":[-0.0625,1.1625],"nice":false},"axis":{"values":[0.55],"labels":false,"tickSize":3,"title":null}},
         "color":{"field":"g","type":"nominal","scale":{"domain":["Y","M","O"],"range":["#F8766D","#00BA38","#619CFF"]},"legend":null}}},
       {"transform":[{"filter":"datum.k=='b'"}],"mark":{"type":"rule","color":"#333","strokeWidth":0.7},"encoding":{"y":{"field":"lo","type":"quantitative"},"y2":{"field":"hi"},"x":{"datum":0.55}}},
       {"transform":[{"filter":"datum.k=='b'"}],"mark":{"type":"rule","color":"#8f00ff","strokeWidth":3},"encoding":{"y":{"field":"mean","type":"quantitative"},"x":{"datum":0.09},"x2":{"datum":1.01}}},
       {"transform":[{"filter":"datum.k=='b'"}],"mark":{"type":"rect","fill":"white","stroke":"#333","strokeWidth":0.7},"encoding":{"y":{"field":"q1","type":"quantitative"},"y2":{"field":"q3"},"x":{"datum":0.475},"x2":{"datum":0.625}}},
       {"transform":[{"filter":"datum.k=='b'"}],"mark":{"type":"rule","color":"#333","strokeWidth":0.7},"encoding":{"y":{"field":"med","type":"quantitative"},"x":{"datum":0.475},"x2":{"datum":0.625}}}
      ]}},
     {"spacing":18.5,"hconcat":[
      {"data":{"name":"vio"},"transform":[{"filter":"datum.p=='KRT18'"}],
       "title":{"text":"KRT18","subtitle":"Kruskal-Wallis, p = 5x10⁻¹²"},
       "facet":{"column":{"field":"g","type":"nominal","sort":["Y","M","O"],"header":{"labelOrient":"bottom","labelFontSize":18,"labelPadding":-4,"title":null}}},
       "spacing":0,
       "spec":{"width":49,"height":136,"layer":[
        {"transform":[{"filter":"datum.k=='v'"}],"mark":{"type":"area","orient":"horizontal","stroke":"#8c8c8c","strokeWidth":0.6},
         "encoding":{"y":{"field":"v","type":"quantitative","scale":{"domain":[-0.17,4.38],"nice":false},"axis":{"title":"Expression Level","values":[0,1.58,3.17],"labels":false,"tickSize":3,"offset":5.5,"titleFontSize":14,"titlePadding":2}},
          "x":{"field":"w","type":"quantitative","stack":"center","impute":null,"scale":{"domain":[-0.0625,1.1625],"nice":false},"axis":{"values":[0.55],"labels":false,"tickSize":3,"title":null}},
          "color":{"field":"g","type":"nominal","scale":{"domain":["Y","M","O"],"range":["#F8766D","#00BA38","#619CFF"]},"legend":null}}},
        {"transform":[{"filter":"datum.k=='b'"}],"mark":{"type":"rule","color":"#333","strokeWidth":0.7},"encoding":{"y":{"field":"lo","type":"quantitative"},"y2":{"field":"hi"},"x":{"datum":0.55}}},
        {"transform":[{"filter":"datum.k=='b'"}],"mark":{"type":"rule","color":"#8f00ff","strokeWidth":3},"encoding":{"y":{"field":"mean","type":"quantitative"},"x":{"datum":0.09},"x2":{"datum":1.01}}},
        {"transform":[{"filter":"datum.k=='b'"}],"mark":{"type":"rect","fill":"white","stroke":"#333","strokeWidth":0.7},"encoding":{"y":{"field":"q1","type":"quantitative"},"y2":{"field":"q3"},"x":{"datum":0.475},"x2":{"datum":0.625}}},
        {"transform":[{"filter":"datum.k=='b'"}],"mark":{"type":"rule","color":"#333","strokeWidth":0.7},"encoding":{"y":{"field":"med","type":"quantitative"},"x":{"datum":0.475},"x2":{"datum":0.625}}}
       ]}},
      {"spacing":16.5,"hconcat":[
       {"data":{"name":"vio"},"transform":[{"filter":"datum.p=='KRT19'"}],
        "title":{"text":"KRT19","subtitle":"Kruskal-Wallis, p < 2.2x10⁻¹⁶"},
        "facet":{"column":{"field":"g","type":"nominal","sort":["Y","M","O"],"header":{"labelOrient":"bottom","labelFontSize":18,"labelPadding":-4,"title":null}}},
        "spacing":0,
        "spec":{"width":49,"height":136,"layer":[
         {"transform":[{"filter":"datum.k=='v'"}],"mark":{"type":"area","orient":"horizontal","stroke":"#8c8c8c","strokeWidth":0.6},
          "encoding":{"y":{"field":"v","type":"quantitative","scale":{"domain":[-0.17,4.38],"nice":false},"axis":{"title":"Expression Level","values":[0,0.87,1.72,2.56,3.44],"labels":false,"tickSize":3,"offset":5.5,"titleFontSize":14,"titlePadding":2}},
           "x":{"field":"w","type":"quantitative","stack":"center","impute":null,"scale":{"domain":[-0.0625,1.1625],"nice":false},"axis":{"values":[0.55],"labels":false,"tickSize":3,"title":null}},
           "color":{"field":"g","type":"nominal","scale":{"domain":["Y","M","O"],"range":["#F8766D","#00BA38","#619CFF"]},"legend":null}}},
         {"transform":[{"filter":"datum.k=='b'"}],"mark":{"type":"rule","color":"#333","strokeWidth":0.7},"encoding":{"y":{"field":"lo","type":"quantitative"},"y2":{"field":"hi"},"x":{"datum":0.55}}},
         {"transform":[{"filter":"datum.k=='b'"}],"mark":{"type":"rule","color":"#8f00ff","strokeWidth":3},"encoding":{"y":{"field":"mean","type":"quantitative"},"x":{"datum":0.09},"x2":{"datum":1.01}}},
         {"transform":[{"filter":"datum.k=='b'"}],"mark":{"type":"rect","fill":"white","stroke":"#333","strokeWidth":0.7},"encoding":{"y":{"field":"q1","type":"quantitative"},"y2":{"field":"q3"},"x":{"datum":0.475},"x2":{"datum":0.625}}},
         {"transform":[{"filter":"datum.k=='b'"}],"mark":{"type":"rule","color":"#333","strokeWidth":0.7},"encoding":{"y":{"field":"med","type":"quantitative"},"x":{"datum":0.475},"x2":{"datum":0.625}}}
        ]}},
       {"data":{"name":"vio"},"transform":[{"filter":"datum.p=='LAMB3'"}],
        "title":{"text":"LAMB3","subtitle":"Kruskal-Wallis, p < 2.2x10⁻¹⁶"},
        "facet":{"column":{"field":"g","type":"nominal","sort":["Y","M","O"],"header":{"labelOrient":"bottom","labelFontSize":18,"labelPadding":-4,"title":null}}},
        "spacing":0,
        "spec":{"width":49,"height":136,"layer":[
         {"transform":[{"filter":"datum.k=='v'"}],"mark":{"type":"area","orient":"horizontal","stroke":"#8c8c8c","strokeWidth":0.6},
          "encoding":{"y":{"field":"v","type":"quantitative","scale":{"domain":[-0.17,4.38],"nice":false},"axis":{"title":"Expression Level","values":[0,1.24,2.47,3.72],"labels":false,"tickSize":3,"offset":5.5,"titleFontSize":14,"titlePadding":2}},
           "x":{"field":"w","type":"quantitative","stack":"center","impute":null,"scale":{"domain":[-0.0625,1.1625],"nice":false},"axis":{"values":[0.55],"labels":false,"tickSize":3,"title":null}},
           "color":{"field":"g","type":"nominal","scale":{"domain":["Y","M","O"],"range":["#F8766D","#00BA38","#619CFF"]},"legend":null}}},
         {"transform":[{"filter":"datum.k=='b'"}],"mark":{"type":"rule","color":"#333","strokeWidth":0.7},"encoding":{"y":{"field":"lo","type":"quantitative"},"y2":{"field":"hi"},"x":{"datum":0.55}}},
         {"transform":[{"filter":"datum.k=='b'"}],"mark":{"type":"rule","color":"#8f00ff","strokeWidth":3},"encoding":{"y":{"field":"mean","type":"quantitative"},"x":{"datum":0.09},"x2":{"datum":1.01}}},
         {"transform":[{"filter":"datum.k=='b'"}],"mark":{"type":"rect","fill":"white","stroke":"#333","strokeWidth":0.7},"encoding":{"y":{"field":"q1","type":"quantitative"},"y2":{"field":"q3"},"x":{"datum":0.475},"x2":{"datum":0.625}}},
         {"transform":[{"filter":"datum.k=='b'"}],"mark":{"type":"rule","color":"#333","strokeWidth":0.7},"encoding":{"y":{"field":"med","type":"quantitative"},"x":{"datum":0.475},"x2":{"datum":0.625}}}
        ]}}
      ]}
     ]}
    ]}
   ]}
  ]}
 ]}
]
}
